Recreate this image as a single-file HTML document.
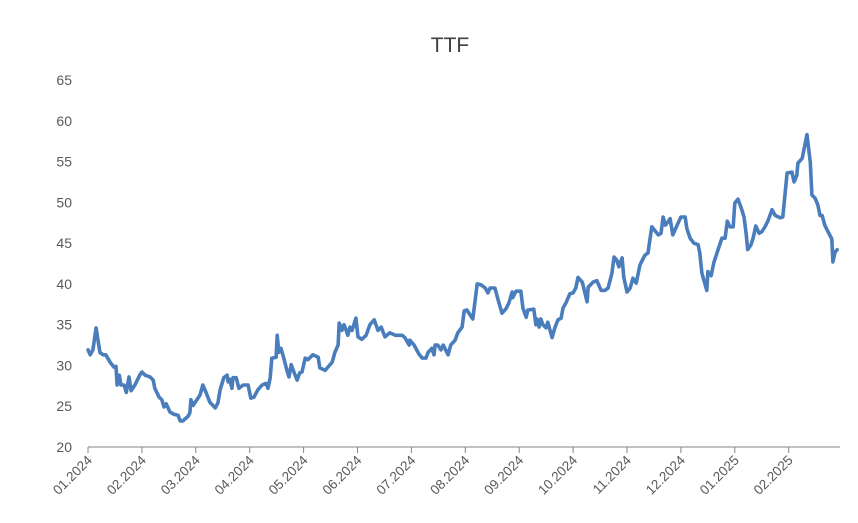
<!DOCTYPE html>
<html><head><meta charset="utf-8"><style>
body{margin:0;background:#fff;}
svg{display:block;font-family:"Liberation Sans",sans-serif;}
</style></head><body>
<svg id="chart" width="858" height="523" viewBox="0 0 858 523">
<text x="450" y="52" text-anchor="middle" font-size="21" fill="#404040">TTF</text>
<g id="yaxis"></g>
<g id="xaxis"></g>
<path id="line" fill="none" stroke="#4a7dbc" stroke-width="3.6" stroke-linejoin="round" stroke-linecap="round"/>
</svg>
<script>
const monthLabels=["01.2024","02.2024","03.2024","04.2024","05.2024","06.2024","07.2024","08.2024","09.2024","10.2024","11.2024","12.2024","01.2025","02.2025"];
const yTicks=[20,25,30,35,40,45,50,55,60,65];
const monthPos=[0,0.04,0.09,0.15,0.22,0.28,0.33,0.41,0.48,0.52,0.54,0.58,0.61,0.67,0.71,0.76,0.80,0.87,0.96,1.00,1.06,1.15,1.21,1.24,1.32,1.37,1.41,1.45,1.52,1.60,1.67,1.71,1.76,1.86,1.89,1.91,1.95,2.02,2.08,2.13,2.19,2.26,2.36,2.41,2.45,2.52,2.58,2.60,2.63,2.67,2.69,2.75,2.80,2.88,2.97,3.02,3.08,3.15,3.23,3.30,3.34,3.38,3.41,3.49,3.51,3.54,3.58,3.64,3.69,3.73,3.77,3.82,3.88,3.93,3.97,4.03,4.08,4.17,4.27,4.30,4.40,4.45,4.53,4.58,4.64,4.66,4.71,4.75,4.79,4.82,4.86,4.90,4.97,5.01,5.08,5.16,5.23,5.31,5.38,5.44,5.51,5.60,5.70,5.83,5.88,5.96,5.97,6.05,6.14,6.20,6.27,6.31,6.38,6.42,6.44,6.49,6.55,6.59,6.68,6.73,6.81,6.86,6.94,6.98,7.03,7.14,7.22,7.29,7.37,7.42,7.46,7.55,7.61,7.68,7.76,7.81,7.87,7.88,7.94,8.03,8.07,8.13,8.16,8.27,8.31,8.33,8.37,8.40,8.44,8.50,8.53,8.61,8.66,8.72,8.78,8.81,8.87,8.94,9.00,9.05,9.09,9.17,9.26,9.28,9.37,9.44,9.52,9.59,9.65,9.72,9.76,9.81,9.85,9.91,9.94,10.00,10.06,10.11,10.17,10.24,10.33,10.39,10.46,10.58,10.63,10.67,10.71,10.76,10.80,10.85,10.93,11.00,11.08,11.11,11.17,11.24,11.32,11.35,11.39,11.48,11.50,11.56,11.61,11.69,11.76,11.82,11.86,11.91,11.97,12.00,12.06,12.13,12.17,12.21,12.24,12.30,12.34,12.39,12.45,12.50,12.56,12.62,12.69,12.75,12.84,12.89,12.97,13.06,13.10,13.15,13.17,13.25,13.34,13.40,13.43,13.49,13.54,13.58,13.62,13.67,13.73,13.80,13.82,13.86,13.90];
const prices=[31.9,31.3,31.9,34.6,31.6,31.3,31.3,30.4,29.8,29.9,27.6,28.8,27.6,27.6,26.7,28.6,26.9,27.6,28.8,29.2,28.8,28.6,28.2,27.2,26.1,25.8,24.9,25.3,24.3,24.0,23.9,23.2,23.2,23.8,24.2,25.8,25.1,25.8,26.4,27.6,26.7,25.5,24.8,25.4,27.0,28.5,28.8,28.0,28.3,27.2,28.5,28.5,27.2,27.6,27.6,26.0,26.1,27.0,27.6,27.8,27.2,28.5,30.9,31.0,33.7,31.6,32.1,30.7,29.4,28.6,30.1,29.2,28.2,29.1,29.2,30.9,30.7,31.3,31.0,29.7,29.4,29.8,30.4,31.6,32.5,35.2,34.3,35.0,34.3,33.7,34.7,34.3,35.8,33.5,33.2,33.7,35.0,35.6,34.3,34.7,33.5,34.0,33.7,33.7,33.4,32.5,33.1,32.5,31.4,30.9,30.9,31.6,32.1,31.3,32.5,32.5,31.9,32.5,31.3,32.5,33.1,34.0,34.7,36.7,36.8,35.7,40.0,39.9,39.5,38.9,39.5,39.5,38.0,36.4,37.0,37.7,39.0,38.3,39.1,39.1,37.0,35.9,36.8,36.9,35.0,35.7,34.7,35.7,35.0,34.6,35.3,33.4,34.6,35.6,35.8,37.0,37.7,38.8,38.9,39.5,40.8,40.2,37.8,39.6,40.2,40.4,39.2,39.2,39.5,41.3,43.3,42.9,42.1,43.2,40.8,39.0,39.5,40.7,40.1,42.3,43.5,43.8,47.0,46.0,46.2,48.2,47.2,47.6,48.0,46.0,47.2,48.2,48.2,46.8,45.6,45.0,44.8,43.8,41.3,39.2,41.5,41.0,42.6,44.2,45.6,45.6,47.7,47.0,47.0,49.9,50.4,49.1,48.2,46.2,44.2,44.8,45.6,47.1,46.2,46.4,47.0,47.8,49.1,48.4,48.1,48.2,53.6,53.7,52.5,53.3,54.8,55.4,58.3,54.9,50.9,50.5,49.7,48.4,48.4,47.2,46.4,45.5,42.7,43.9,44.2];

const NS="http://www.w3.org/2000/svg";
const x0=88,dx=53.9,yBase=447,yScale=8.156;
function xS(m){return x0+m*dx;}
function yS(v){return yBase-(v-20)*yScale;}
const ya=document.getElementById('yaxis');
yTicks.forEach(v=>{
  const t=document.createElementNS(NS,'text');
  
  
  t.setAttribute('x',72);t.setAttribute('y',yS(v)+5);
  t.setAttribute('text-anchor','end');t.setAttribute('font-size','14');t.setAttribute('fill','#595959');
  t.textContent=v;ya.appendChild(t);
});
const xa=document.getElementById('xaxis');
const ax=document.createElementNS(NS,'line');


ax.setAttribute('x1',x0);ax.setAttribute('x2',840);ax.setAttribute('y1',yBase);ax.setAttribute('y2',yBase);
ax.setAttribute('stroke','#868686');ax.setAttribute('stroke-width','1');xa.appendChild(ax);
monthLabels.forEach((lab,i)=>{
  const x=xS(i);
  const tk=document.createElementNS(NS,'line');
  
  
  tk.setAttribute('x1',x);tk.setAttribute('x2',x);tk.setAttribute('y1',yBase);tk.setAttribute('y2',yBase+6);
  tk.setAttribute('stroke','#868686');xa.appendChild(tk);
  const t=document.createElementNS(NS,'text');
  
  
  t.setAttribute('x',x+5);t.setAttribute('y',yBase+14);
  t.setAttribute('text-anchor','end');t.setAttribute('font-size','13.5');t.setAttribute('fill','#595959');
  t.setAttribute('transform','rotate(-45 '+(x+5)+' '+(yBase+14)+')');
  t.textContent=lab;xa.appendChild(t);
});
let d='';
monthPos.forEach((m,i)=>{d+=(i?'L':'M')+xS(m).toFixed(1)+' '+yS(prices[i]).toFixed(1);});
document.getElementById('line').setAttribute('d',d);
</script>
</body></html>
